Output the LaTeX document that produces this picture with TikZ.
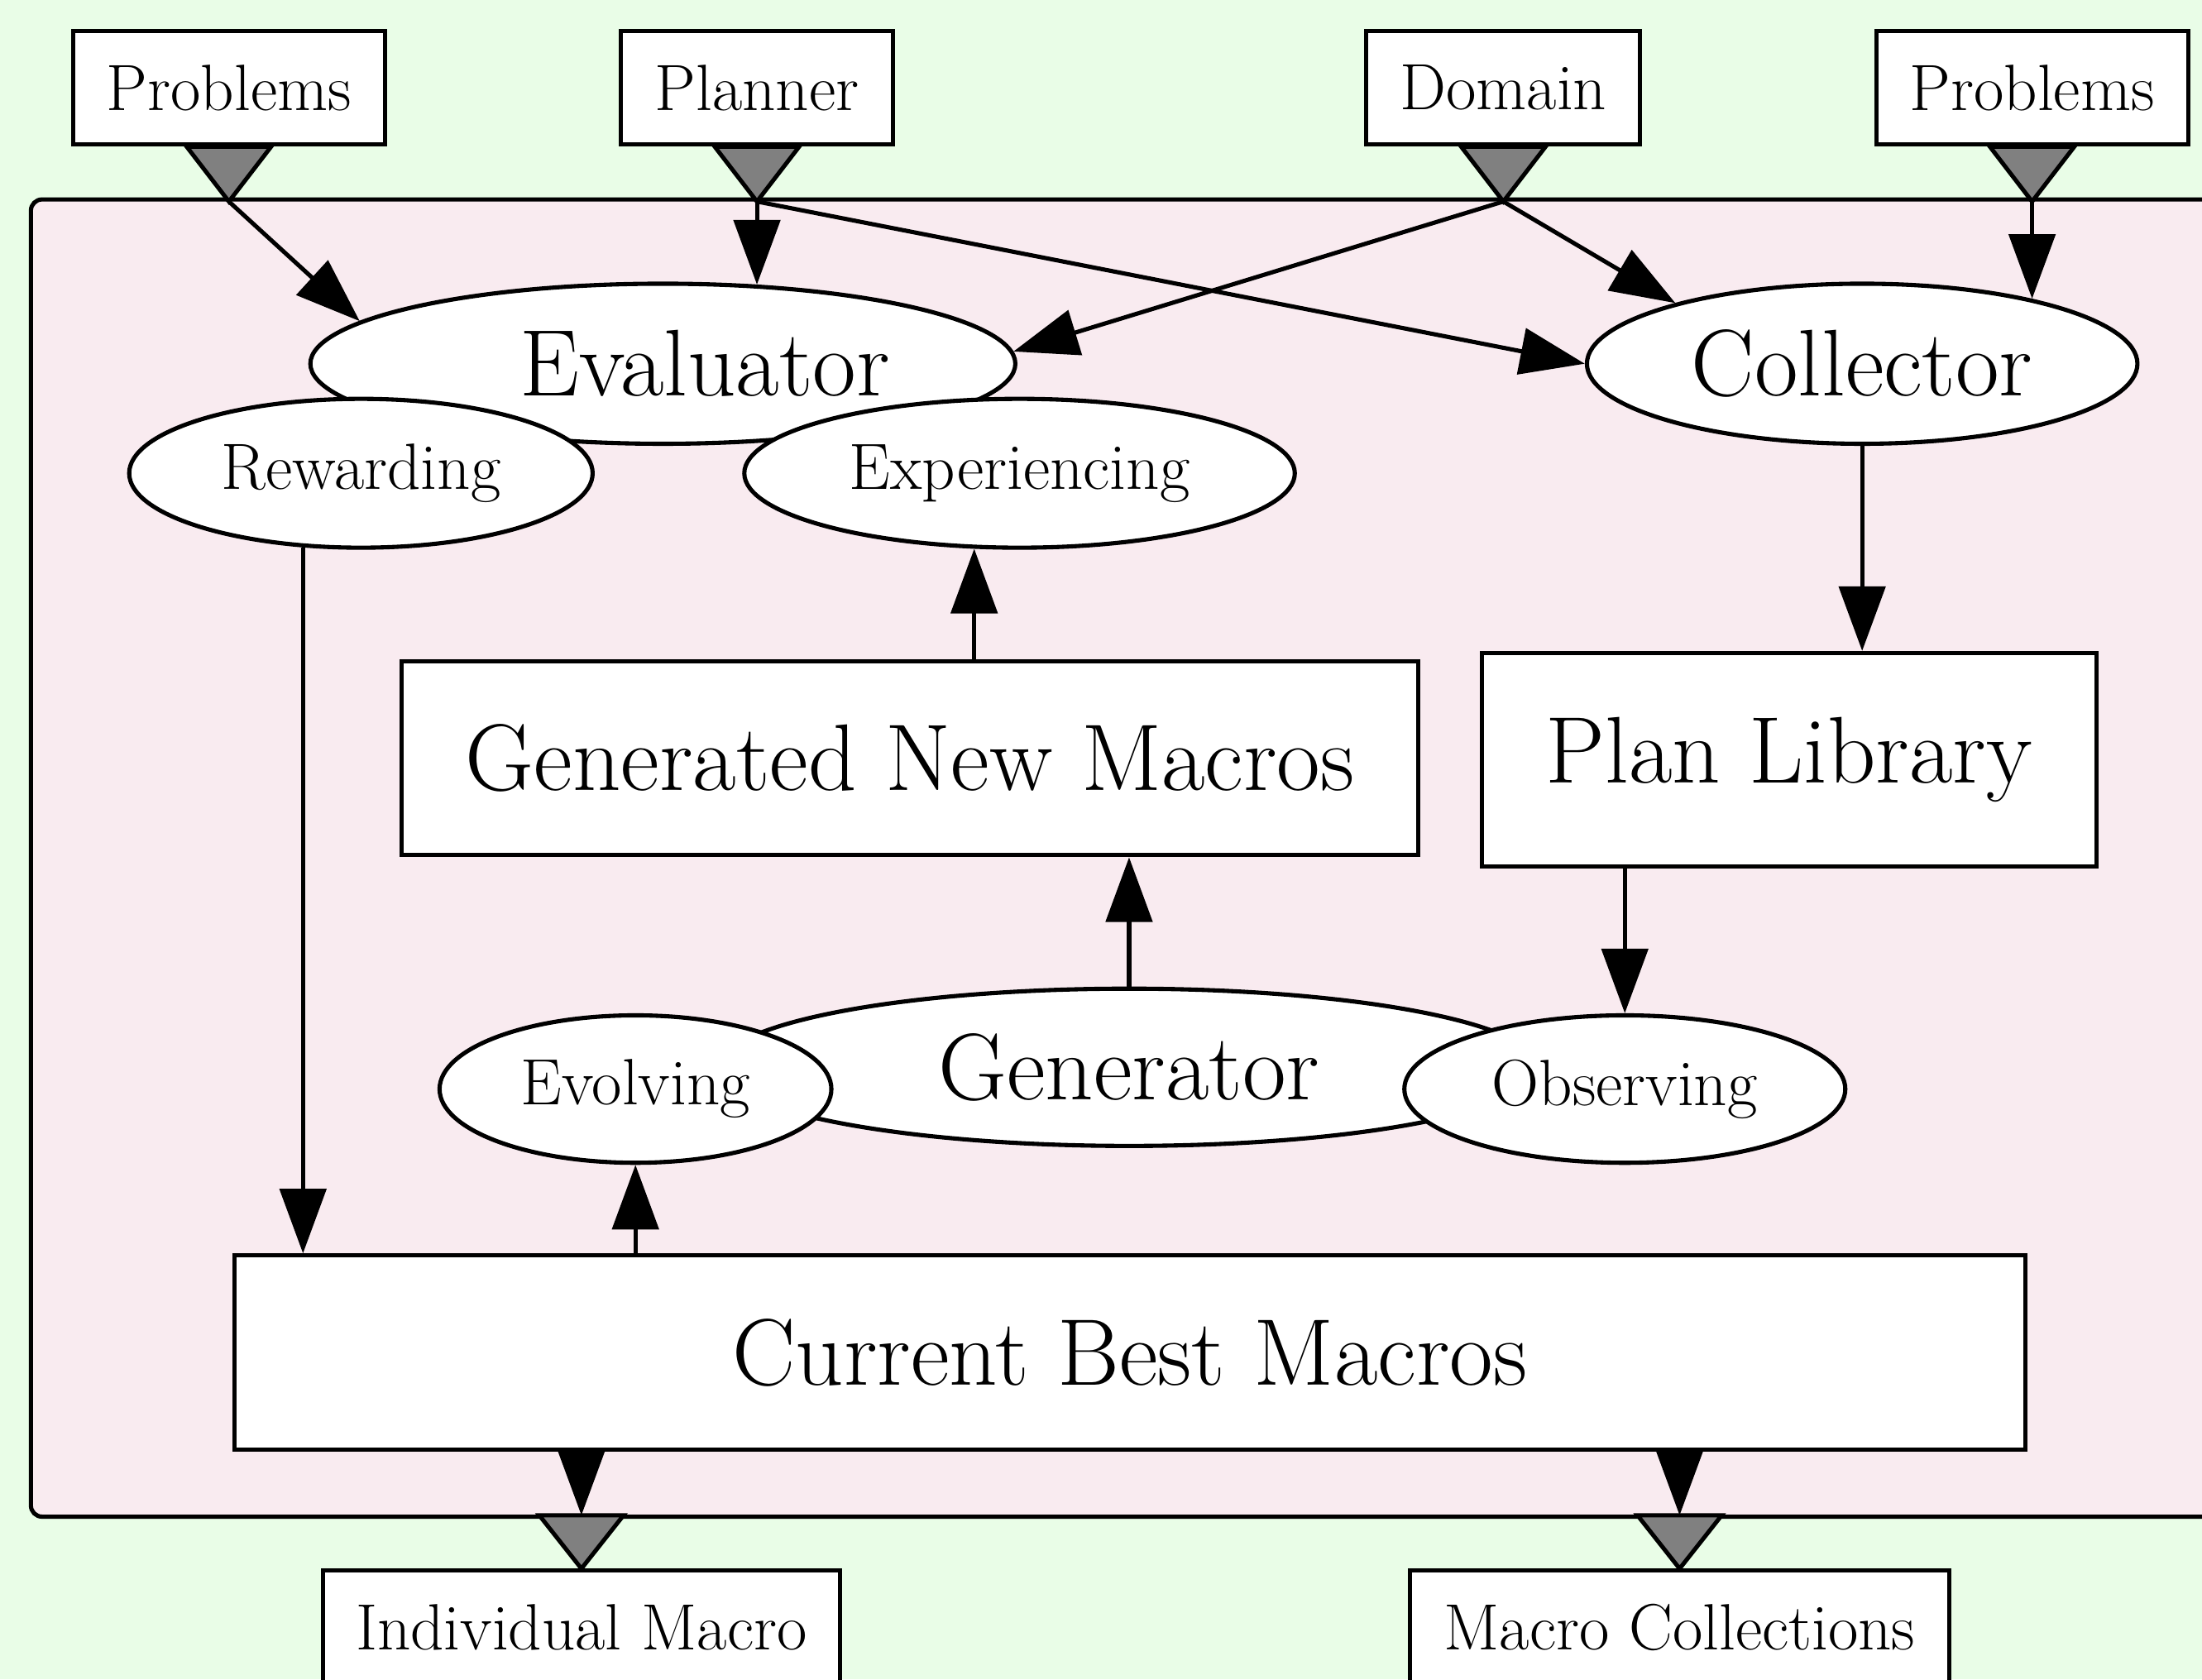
\documentclass[tikz,border=0pt]{standalone}
\usetikzlibrary{arrows.meta,shapes.geometric,calc}
\definecolor{bggreen}{RGB}{233,253,231}
\definecolor{bgpink}{RGB}{249,235,240}
\definecolor{trigray}{RGB}{128,128,128}
\newcommand\bigtxt{\fontsize{33.7}{38}\selectfont}
\newcommand\smtxt{\fontsize{23.3}{27}\selectfont}
\begin{document}
\begin{tikzpicture}[x=0.5pt,y=-0.5pt,
  lw/.style={line width=1.5pt},
  smbox/.style={draw,lw,fill=white,rectangle,inner sep=0pt,font=\smtxt,minimum height=40.5pt},
  bigbox/.style={draw,lw,fill=white,rectangle,inner sep=0pt,font=\bigtxt},
  bigell/.style={draw,lw,fill=white,ellipse,inner sep=0pt,font=\bigtxt,minimum height=57pt},
  smell/.style={draw,lw,fill=white,ellipse,inner sep=0pt,font=\smtxt,minimum height=53pt},
  tri/.style={draw,lw,fill=trigray},
  arr/.style={lw,-{Triangle[length=23pt,width=16.5pt]}}]
\useasboundingbox (0,0) rectangle (1568,1196);
\clip (0,0) rectangle (1568,1196);
\fill[bggreen] (0,0) rectangle (1568,1196);
% container
\draw[lw,fill=bgpink,rounded corners=4pt] (22,142) rectangle (1700,1080);
% input boxes
\node[smbox,minimum width=111pt] (pL) at (163,62.5) {Problems};
\node[smbox,minimum width=97pt] (pl) at (539,62.5) {Planner};
\node[smbox,minimum width=97.5pt] (dom) at (1070.5,62.5) {Domain};
\node[smbox,minimum width=111pt] (pR) at (1447,62.5) {Problems};
\foreach \n in {pL,pl,dom,pR}{
  \coordinate (\n T) at ($(\n.south)+(0,39)$);
  \draw[tri] ($(\n.south)+(-30,0)$) -- ($(\n.south)+(30,0)$) -- (\n T) -- cycle;
}
% upper ellipses
\node[bigell,minimum width=251pt] (ev) at (472,259) {\hspace*{30pt}Evaluator};
\node[bigell,minimum width=196pt] (col) at (1326,259) {Collector};
\node[smell,minimum width=165pt] (rew) at (257,337) {Rewarding};
\node[smell,minimum width=196pt] (exp) at (726,337) {Experiencing};
% boxes
\node[bigbox,minimum width=362pt,minimum height=69pt] (gnm) at (648,540) {Generated New Macros};
\node[bigbox,minimum width=219pt,minimum height=76pt] (plib) at (1274,541) {Plan Library};
% generator
\node[bigell,minimum width=292pt,minimum height=56pt] (gen) at (804,760) {Generator};
\node[smell,minimum width=139.5pt,minimum height=52.5pt] (evo) at (452.5,775.5) {Evolving};
\node[smell,minimum width=157pt,minimum height=52.5pt] (obs) at (1157,775.5) {Observing};
% current best
\node[bigbox,minimum width=637.5pt,minimum height=69pt] (cbm) at (804.5,963) {Current Best Macros};
% outputs
\node[smbox,minimum width=184pt] (ind) at (414,1159) {Individual Macro};
\node[smbox,minimum width=192pt] (mc) at (1196,1159) {Macro Collections};
\foreach \n in {ind,mc}{
  \coordinate (\n B) at ($(\n.north)+(0,-38)$);
  \draw[tri] ($(\n.north)+(-30,-38)$) -- ($(\n.north)+(30,-38)$) -- (\n.north) -- cycle;
  \draw[arr] (cbm.south -| \n.north) -- (\n B);
}
% connectors
\draw[arr] (pLT) -- (ev.172);
\draw[arr] (plT) -- (plT |- ev.40);
\draw[arr] (plT) -- (col.west);
\draw[arr] (domT) -- (ev.2);
\draw[arr] (domT) -- (col.162);
\draw[arr] (pRT) -- (pRT |- col.21);
\draw[arr] (col.south) -- (col.south |- plib.north);
\draw[arr] (rew.232) -- (rew.232 |- cbm.north);
\draw[arr] (exp.239 |- gnm.north) -- (exp.239);
\draw[arr] (gen.north) -- (gen.north |- gnm.south);
\draw[arr] (obs.north |- plib.south) -- (obs.north);
\draw[arr] (evo.south |- cbm.north) -- (evo.south);
\end{tikzpicture}
\end{document}
